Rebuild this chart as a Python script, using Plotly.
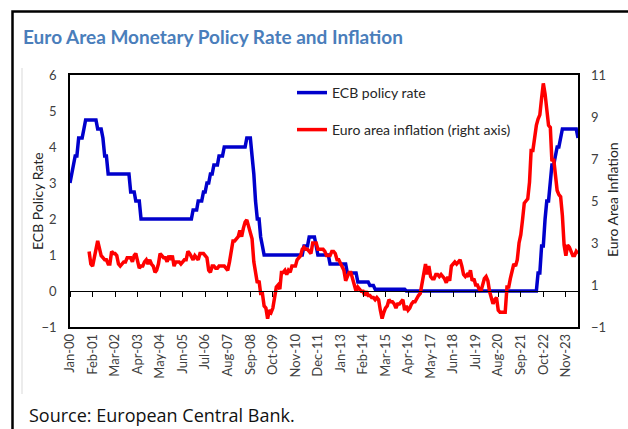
import pandas as pd
import plotly.graph_objects as go

# monthly ECB main refinancing rate, Jan 2000 - Jun 2024
ecb_rate = [
    3.0, 3.25, 3.5, 3.75, 3.75, 4.25, 4.25, 4.25, 4.5, 4.75, 4.75, 4.75,   # 2000
    4.75, 4.75, 4.75, 4.75, 4.5, 4.5, 4.5, 4.25, 3.75, 3.75, 3.25, 3.25,   # 2001
    3.25, 3.25, 3.25, 3.25, 3.25, 3.25, 3.25, 3.25, 3.25, 3.25, 3.25, 2.75,  # 2002
    2.75, 2.75, 2.5, 2.5, 2.5, 2.0, 2.0, 2.0, 2.0, 2.0, 2.0, 2.0,          # 2003
    2.0, 2.0, 2.0, 2.0, 2.0, 2.0, 2.0, 2.0, 2.0, 2.0, 2.0, 2.0,            # 2004
    2.0, 2.0, 2.0, 2.0, 2.0, 2.0, 2.0, 2.0, 2.0, 2.0, 2.0, 2.25,           # 2005
    2.25, 2.25, 2.5, 2.5, 2.5, 2.75, 2.75, 3.0, 3.0, 3.25, 3.25, 3.5,      # 2006
    3.5, 3.5, 3.75, 3.75, 3.75, 4.0, 4.0, 4.0, 4.0, 4.0, 4.0, 4.0,         # 2007
    4.0, 4.0, 4.0, 4.0, 4.0, 4.0, 4.25, 4.25, 4.25, 3.75, 3.25, 2.5,       # 2008
    2.0, 2.0, 1.5, 1.25, 1.0, 1.0, 1.0, 1.0, 1.0, 1.0, 1.0, 1.0,           # 2009
    1.0, 1.0, 1.0, 1.0, 1.0, 1.0, 1.0, 1.0, 1.0, 1.0, 1.0, 1.0,            # 2010
    1.0, 1.0, 1.0, 1.25, 1.25, 1.25, 1.5, 1.5, 1.5, 1.5, 1.25, 1.0,        # 2011
    1.0, 1.0, 1.0, 1.0, 1.0, 1.0, 0.75, 0.75, 0.75, 0.75, 0.75, 0.75,      # 2012
    0.75, 0.75, 0.75, 0.75, 0.5, 0.5, 0.5, 0.5, 0.5, 0.5, 0.25, 0.25,      # 2013
    0.25, 0.25, 0.25, 0.25, 0.25, 0.15, 0.15, 0.15, 0.05, 0.05, 0.05, 0.05,  # 2014
    0.05, 0.05, 0.05, 0.05, 0.05, 0.05, 0.05, 0.05, 0.05, 0.05, 0.05, 0.05,  # 2015
    0.05, 0.05, 0.0, 0.0, 0.0, 0.0, 0.0, 0.0, 0.0, 0.0, 0.0, 0.0,          # 2016
    0.0, 0.0, 0.0, 0.0, 0.0, 0.0, 0.0, 0.0, 0.0, 0.0, 0.0, 0.0,            # 2017
    0.0, 0.0, 0.0, 0.0, 0.0, 0.0, 0.0, 0.0, 0.0, 0.0, 0.0, 0.0,            # 2018
    0.0, 0.0, 0.0, 0.0, 0.0, 0.0, 0.0, 0.0, 0.0, 0.0, 0.0, 0.0,            # 2019
    0.0, 0.0, 0.0, 0.0, 0.0, 0.0, 0.0, 0.0, 0.0, 0.0, 0.0, 0.0,            # 2020
    0.0, 0.0, 0.0, 0.0, 0.0, 0.0, 0.0, 0.0, 0.0, 0.0, 0.0, 0.0,            # 2021
    0.0, 0.0, 0.0, 0.0, 0.0, 0.0, 0.5, 0.5, 1.25, 1.25, 2.0, 2.5,          # 2022
    2.5, 3.0, 3.5, 3.5, 3.75, 4.0, 4.0, 4.25, 4.5, 4.5, 4.5, 4.5,          # 2023
    4.5, 4.5, 4.5, 4.5, 4.5, 4.25,                                        # 2024
]

# euro area HICP inflation (% y/y), Dec 2000 - Jun 2024
hicp = [
    2.6,                                                                  # Dec 2000
    2.0, 1.9, 2.2, 2.7, 3.1, 2.8, 2.4, 2.3, 2.2, 2.2, 2.0, 2.0,            # 2001
    2.6, 2.5, 2.5, 2.4, 2.0, 1.9, 2.0, 2.1, 2.1, 2.3, 2.3, 2.3,            # 2002
    2.1, 2.4, 2.5, 2.1, 1.8, 1.9, 1.9, 2.1, 2.2, 2.0, 2.2, 2.0,            # 2003
    1.9, 1.6, 1.7, 2.0, 2.5, 2.4, 2.3, 2.3, 2.1, 2.4, 2.2, 2.4,            # 2004
    1.9, 2.1, 2.1, 2.1, 2.0, 2.1, 2.2, 2.2, 2.6, 2.5, 2.3, 2.2,            # 2005
    2.4, 2.3, 2.2, 2.5, 2.5, 2.5, 2.4, 2.3, 1.7, 1.6, 1.9, 1.9,            # 2006
    1.8, 1.8, 1.9, 1.9, 1.9, 1.9, 1.8, 1.7, 2.1, 2.6, 3.1, 3.1,            # 2007
    3.2, 3.3, 3.6, 3.3, 3.7, 4.0, 4.1, 3.8, 3.6, 3.2, 2.1, 1.6,            # 2008
    1.1, 1.2, 0.6, 0.6, 0.0, -0.1, -0.6, -0.2, -0.3, -0.1, 0.5, 0.9,       # 2009
    1.0, 0.8, 1.6, 1.6, 1.7, 1.5, 1.7, 1.6, 1.9, 1.9, 1.9, 2.2,            # 2010
    2.3, 2.4, 2.7, 2.8, 2.7, 2.7, 2.6, 2.5, 3.0, 3.0, 3.0, 2.7,            # 2011
    2.7, 2.7, 2.7, 2.6, 2.4, 2.4, 2.4, 2.6, 2.6, 2.5, 2.2, 2.2,            # 2012
    2.0, 1.8, 1.7, 1.2, 1.4, 1.6, 1.6, 1.3, 1.1, 0.7, 0.9, 0.8,            # 2013
    0.7, 0.7, 0.5, 0.7, 0.5, 0.5, 0.4, 0.4, 0.3, 0.4, 0.3, -0.2,           # 2014
    -0.6, -0.3, -0.1, 0.0, 0.3, 0.2, 0.2, 0.1, -0.1, 0.1, 0.1, 0.2,        # 2015
    0.3, -0.2, 0.0, -0.2, -0.1, 0.1, 0.2, 0.2, 0.4, 0.5, 0.6, 1.1,         # 2016
    1.7, 2.0, 1.5, 1.9, 1.4, 1.3, 1.3, 1.5, 1.5, 1.4, 1.5, 1.4,            # 2017
    1.3, 1.1, 1.4, 1.2, 1.9, 2.0, 2.1, 2.0, 2.1, 2.2, 1.9, 1.5,            # 2018
    1.4, 1.5, 1.4, 1.7, 1.2, 1.3, 1.0, 1.0, 0.8, 0.7, 1.0, 1.3,            # 2019
    1.4, 1.2, 0.7, 0.3, 0.1, 0.3, 0.4, -0.2, -0.3, -0.3, -0.3, -0.3,       # 2020
    0.9, 0.9, 1.3, 1.6, 2.0, 1.9, 2.2, 3.0, 3.4, 4.1, 4.9, 5.0,            # 2021
    5.1, 5.9, 7.4, 7.4, 8.1, 8.6, 8.9, 9.1, 9.9, 10.6, 10.1, 9.2,          # 2022
    8.6, 8.5, 6.9, 7.0, 6.1, 5.5, 5.3, 5.2, 4.3, 2.9, 2.4, 2.9,            # 2023
    2.8, 2.6, 2.4, 2.4, 2.6, 2.5,                                         # 2024
]

tick_labels = [
    "Jan-00", "Feb-01", "Mar-02", "Apr-03", "May-04", "Jun-05", "Jul-06",
    "Aug-07", "Sep-08", "Oct-09", "Nov-10", "Dec-11", "Jan-13", "Feb-14",
    "Mar-15", "Apr-16", "May-17", "Jun-18", "Jul-19", "Aug-20", "Sep-21",
    "Oct-22", "Nov-23",
]

months = pd.date_range("2000-01-01", periods=len(ecb_rate), freq="MS")
hicp_months = pd.date_range("2000-12-01", periods=len(hicp), freq="MS")
tick_dates = pd.to_datetime(tick_labels, format="%b-%y")

W, H = 628, 429
L, R, T, B = 70, 50, 75, 102
PW, PH = W - L - R, H - T - B


def px_x(px):
    return (px - L) / PW


def px_y(py):
    return (H - B - py) / PH


AXIS_FONT = dict(family="Lato, sans-serif", size=13, color="#404040")
TITLE_FONT = dict(family="Lato, sans-serif", size=14, color="#262626")
x_range = [months[0], months[-1]]

fig = go.Figure()

fig.add_trace(go.Scatter(
    x=months, y=ecb_rate, mode="lines", name="ECB policy rate",
    line=dict(color="#0000CC", width=3.5), legend="legend", showlegend=True,
))
fig.add_trace(go.Scatter(
    x=hicp_months, y=hicp, mode="lines", name="Euro area inflation (right axis)",
    line=dict(color="#FF0000", width=3.5), xaxis="x2", yaxis="y2",
    legend="legend2", showlegend=True,
))

legend_style = dict(
    xref="paper", yref="paper", xanchor="left", yanchor="middle",
    bgcolor="rgba(0,0,0,0)", borderwidth=0, visible=True,
    font=dict(family="Lato, sans-serif", size=14, color="#262626"),
)

fig.update_layout(
    width=W, height=H,
    margin=dict(l=L, r=R, t=T, b=B, autoexpand=False),
    paper_bgcolor="white", plot_bgcolor="white",
    showlegend=True,
    title=dict(
        text="<b>Euro Area Monetary Policy Rate and Inflation</b>",
        xref="container", yref="container",
        x=23 / W, y=1 - 37 / H, xanchor="left", yanchor="middle",
        font=dict(family="Lato, sans-serif", size=19, color="#4A7EBB"),
    ),
    xaxis=dict(
        type="date", range=x_range, automargin=False,
        tickvals=tick_dates, ticktext=tick_labels, tickangle=-90,
        tickfont=AXIS_FONT, ticks="", showgrid=False, zeroline=False,
        showline=True, linecolor="black", linewidth=1.5, mirror=True,
    ),
    xaxis2=dict(
        type="date", range=x_range, overlaying="x", anchor="free",
        position=px_y(290.7), automargin=False,
        tickvals=tick_dates, showticklabels=False,
        ticks="outside", ticklen=5, tickwidth=1, tickcolor="black",
        showgrid=False, zeroline=False,
        showline=True, linecolor="black", linewidth=1.2,
    ),
    yaxis=dict(
        range=[-1, 6], dtick=1, tickfont=AXIS_FONT, ticks="",
        ticklabelstandoff=9, automargin=False,
        showgrid=False, zeroline=False,
        showline=True, linecolor="black", linewidth=1.5, mirror=True,
    ),
    yaxis2=dict(
        range=[-1, 11], tick0=1, dtick=2, overlaying="y", side="right", anchor="x2",
        tickfont=AXIS_FONT, ticks="", ticklabelstandoff=12, automargin=False,
        showgrid=False, zeroline=False, showline=False,
    ),
    legend=dict(x=px_x(292), y=px_y(93), **legend_style),
    legend2=dict(x=px_x(292), y=px_y(130), **legend_style),
    shapes=[
        dict(type="rect", xref="paper", yref="paper",
             x0=px_x(12.5), x1=px_x(660), y0=px_y(460), y1=px_y(11.5),
             line=dict(color="black", width=2.5), fillcolor="rgba(0,0,0,0)",
             layer="below"),
        dict(type="line", xref="paper", yref="paper",
             x0=px_x(22), x1=px_x(22), y0=px_y(394), y1=px_y(68),
             line=dict(color="#D9D9D9", width=1)),
    ],
    annotations=[
        dict(text="ECB Policy Rate", xref="paper", yref="paper",
             x=px_x(37), y=px_y(201), textangle=-90,
             xanchor="center", yanchor="middle", showarrow=False, font=TITLE_FONT),
        dict(text="Euro Area Inflation", xref="paper", yref="paper",
             x=px_x(612), y=px_y(200), textangle=-90,
             xanchor="center", yanchor="middle", showarrow=False, font=TITLE_FONT),
        dict(text="Source: European Central Bank.", xref="paper", yref="paper",
             x=px_x(27), y=px_y(415), xanchor="left", yanchor="middle",
             showarrow=False,
             font=dict(family="Open Sans, sans-serif", size=18, color="#111111")),
    ],
)

# the page body has a default 8px margin; drop it so the figure sits at 0,0
fig.write_html(
    "out.html",
    config={"displayModeBar": False},
    post_script="document.body.style.margin='0';",
)
